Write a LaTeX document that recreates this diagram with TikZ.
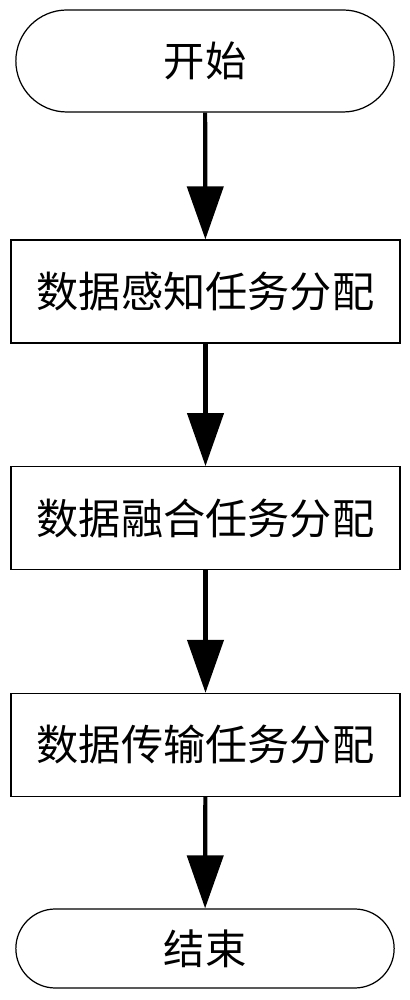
\documentclass[tikz,border=0pt]{standalone}
\usepackage{fontspec}
\setmainfont{Noto Sans CJK SC}
\usetikzlibrary{arrows.meta,positioning,shapes.misc}
\begin{document}
\begin{tikzpicture}[
  termbox/.style={rounded rectangle, draw, line width=0.7pt, minimum width=7.8cm, minimum height=2.04cm, font=\fontsize{23.5}{26}\selectfont},
  taskbox/.style={rectangle, draw, line width=0.7pt, minimum width=7.78cm, minimum height=2.06cm, font=\fontsize{24}{26}\selectfont},
  flow/.style={line width=2.4pt, -{Triangle[length=1.06cm,width=0.72cm]}},
  node distance=2.45cm]
\useasboundingbox (0,0) rectangle (8.2,20);
\node[termbox] (start) at (4.1,18.78){开始};
\node[taskbox] (sense) at (4.11,14.17){数据感知任务分配};
\node[taskbox, below=of sense] (fuse){数据融合任务分配};
\node[taskbox, below=of fuse] (send){数据传输任务分配};
\node[termbox, minimum height=1.58cm] (stop) at (4.1,1.03){结束};
\draw[flow](start) -- (sense);
\draw[flow](sense) -- (fuse);
\draw[flow](fuse) -- (send);
\draw[flow](send) -- (stop);
\end{tikzpicture}
\end{document}
